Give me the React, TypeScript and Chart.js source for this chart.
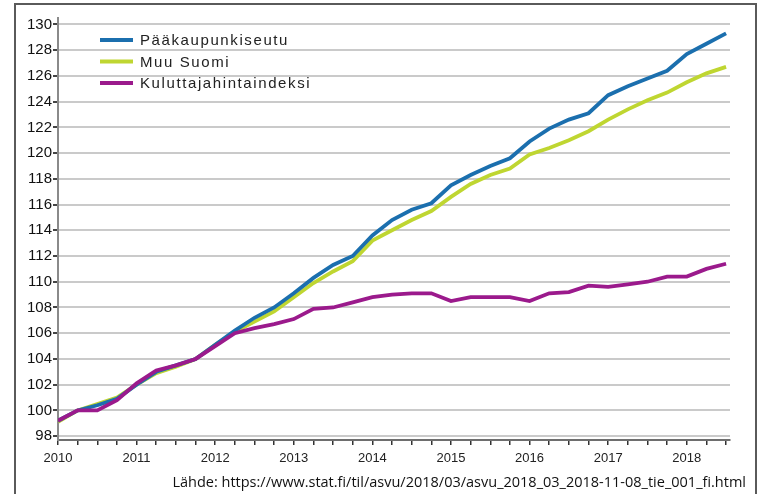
import React, { useEffect, useRef } from "react";
import { Chart, registerables } from "chart.js";

Chart.register(...registerables);

// Quarterly time positions (decimal years)
const quarters: number[] = [
  2010, 2010.25, 2010.5, 2010.75,
  2011, 2011.25, 2011.5, 2011.75,
  2012, 2012.25, 2012.5, 2012.75,
  2013, 2013.25, 2013.5, 2013.75,
  2014, 2014.25, 2014.5, 2014.75,
  2015, 2015.25, 2015.5, 2015.75,
  2016, 2016.25, 2016.5, 2016.75,
  2017, 2017.25, 2017.5, 2017.75,
  2018, 2018.25, 2018.5,
];

const seriesNames = ["Pääkaupunkiseutu", "Muu Suomi", "Kuluttajahintaindeksi"];

const paakaupunkiseutu: number[] = [
  99.2, 100.0, 100.4, 100.9,
  102.0, 103.0, 103.5, 104.0,
  105.1, 106.2, 107.2, 108.0,
  109.1, 110.3, 111.3, 112.0,
  113.6, 114.8, 115.6, 116.1,
  117.5, 118.3, 119.0, 119.6,
  120.9, 121.9, 122.6, 123.1,
  124.5, 125.2, 125.8, 126.4,
  127.7, 128.5, 129.3,
];

const muuSuomi: number[] = [
  99.1, 100.0, 100.5, 101.0,
  102.0, 102.9, 103.4, 104.0,
  105.1, 106.1, 106.9, 107.7,
  108.8, 109.9, 110.8, 111.6,
  113.2, 114.0, 114.8, 115.5,
  116.6, 117.6, 118.3, 118.8,
  119.9, 120.4, 121.0, 121.7,
  122.6, 123.4, 124.1, 124.7,
  125.5, 126.2, 126.7,
];

const kuluttajahintaindeksi: number[] = [
  99.2, 100.0, 100.0, 100.8,
  102.1, 103.1, 103.5, 104.0,
  105.0, 106.0, 106.4, 106.7,
  107.1, 107.9, 108.0, 108.4,
  108.8, 109.0, 109.1, 109.1,
  108.5, 108.8, 108.8, 108.8,
  108.5, 109.1, 109.2, 109.7,
  109.6, 109.8, 110.0, 110.4,
  110.4, 111.0, 111.4,
];

const yTickValues: number[] = [98, 100, 102, 104, 106, 108, 110, 112, 114, 116, 118, 120, 122, 124, 126, 128, 130];
const xYearLabels: number[] = [2010, 2011, 2012, 2013, 2014, 2015, 2016, 2017, 2018];

const sourceText = "Lähde: https://www.stat.fi/til/asvu/2018/03/asvu_2018_03_2018-11-08_tie_001_fi.html";

const colors = ["#1b6fae", "#bfd631", "#9b1a8c"];

const legendPlugin = {
  id: "insideLegend",
  afterDraw(chart: any) {
    const ctx = chart.ctx;
    ctx.save();
    const x0 = 100;
    const y0 = 40;
    const gap = 21.5;
    chart.data.datasets.forEach((ds: any, i: number) => {
      const y = y0 + i * gap;
      ctx.strokeStyle = ds.borderColor;
      ctx.lineWidth = 4;
      ctx.beginPath();
      ctx.moveTo(x0, y);
      ctx.lineTo(x0 + 33, y);
      ctx.stroke();
      ctx.fillStyle = "#222";
      ctx.font = "15px 'Liberation Sans', Arial, sans-serif";
      try { (ctx as any).letterSpacing = "1.6px"; } catch (e) {}
      ctx.textBaseline = "middle";
      ctx.textAlign = "left";
      ctx.fillText(ds.label, x0 + 40, y + 1);
    });
    ctx.restore();
  },
};

export default function App() {
  const canvasRef = useRef<HTMLCanvasElement | null>(null);

  useEffect(() => {
    if (!canvasRef.current) return;
    const mk = (vals: number[]) => quarters.map((q, i) => ({ x: q, y: vals[i] }));
    const chart = new Chart(canvasRef.current, {
      type: "line",
      data: {
        datasets: [
          { label: seriesNames[0], data: mk(paakaupunkiseutu), borderColor: colors[0], backgroundColor: colors[0], borderWidth: 3.8, pointRadius: 0, tension: 0, order: 1 },
          { label: seriesNames[1], data: mk(muuSuomi), borderColor: colors[1], backgroundColor: colors[1], borderWidth: 3.8, pointRadius: 0, tension: 0, order: 2 },
          { label: seriesNames[2], data: mk(kuluttajahintaindeksi), borderColor: colors[2], backgroundColor: colors[2], borderWidth: 3.8, pointRadius: 0, tension: 0, order: 0 },
        ],
      },
      options: {
        animation: false,
        responsive: false,
        devicePixelRatio: 1,
        layout: { padding: { left: 0, top: 18, right: 42, bottom: 0 } },
        plugins: {
          legend: { display: false },
          tooltip: { enabled: false },
        },
        scales: {
          x: {
            type: "linear",
            min: 2010,
            max: 2018.55,
            afterFit(scale: any) { scale.height = 54; },
            afterBuildTicks(scale: any) {
              const t: any[] = [];
              for (let v = 2010; v <= 2018.5 + 1e-6; v += 0.25) t.push({ value: v });
              scale.ticks = t;
            },
            border: { display: true, color: "#6e6e6e", width: 2 },
            grid: { display: true, drawOnChartArea: false, drawTicks: true, tickLength: 5, color: "#333", lineWidth: 1.5 },
            ticks: {
              autoSkip: false,
              maxRotation: 0,
              padding: 6,
              color: "#222",
              font: { family: "'Liberation Sans', Arial, sans-serif", size: 13 },
              callback: (v: any) => {
                const n = Number(v);
                return xYearLabels.includes(n) ? String(n) : "";
              },
            },
          },
          y: {
            type: "linear",
            min: 97.7,
            max: 130.5,
            afterFit(scale: any) { scale.width = 58; },
            afterBuildTicks(scale: any) {
              scale.ticks = yTickValues.map((v) => ({ value: v }));
            },
            border: { display: true, color: "#8a8a8a", width: 2 },
            grid: { color: "#cacaca", lineWidth: 2, drawTicks: true, tickLength: 5, tickColor: "#444" },
            ticks: {
              padding: 1,
              color: "#111",
              font: { family: "'Liberation Sans', Arial, sans-serif", size: 15 },
              callback: (v: any) => String(v),
            },
          },
        },
      },
      plugins: [legendPlugin],
    });
    return () => chart.destroy();
  }, []);

  return (
    <div style={{ position: "fixed", left: 0, top: 0, width: 772, height: 494, background: "#fff", overflow: "hidden" }}>
      <div style={{ position: "absolute", left: 14, top: 3, width: 743, height: 520, border: "2px solid #5a5a5a", boxSizing: "border-box" }} />
      <canvas ref={canvasRef} width={772} height={494} style={{ position: "absolute", left: 0, top: 0, width: 772, height: 494 }} />
      <div style={{ position: "absolute", right: 26, top: 473, fontFamily: "'Open Sans', 'Noto Sans', sans-serif", fontSize: 14.5, color: "#111", whiteSpace: "nowrap", lineHeight: "18px" }}>
        {sourceText}
      </div>
    </div>
  );
}
